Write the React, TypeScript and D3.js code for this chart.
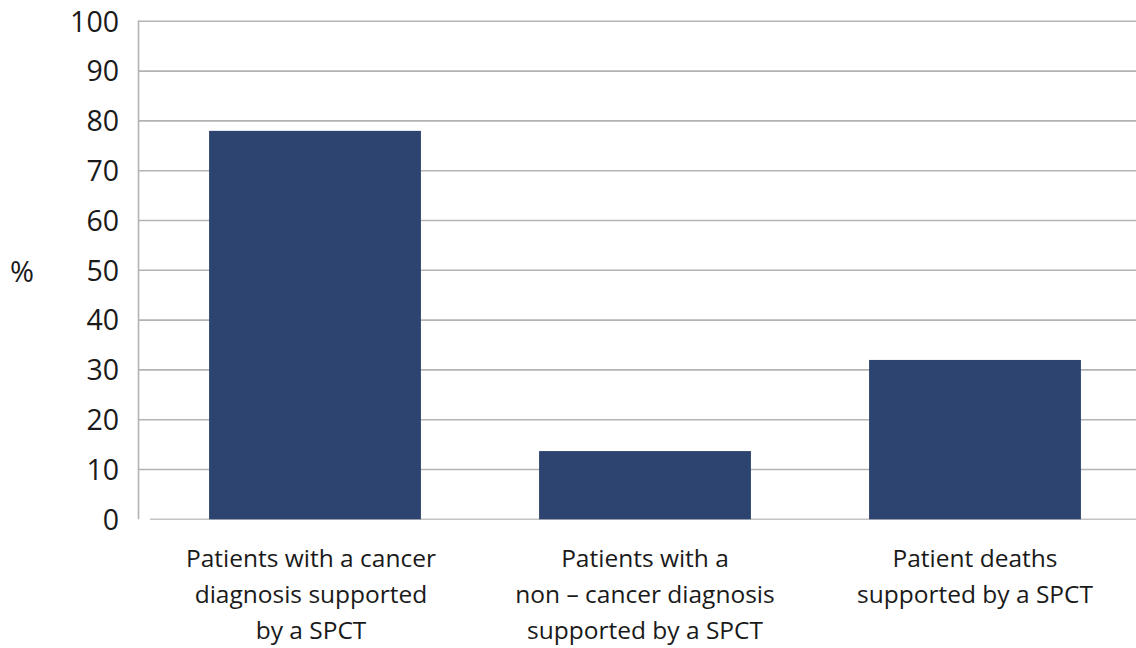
import React from "react";
import * as d3 from "d3";

const categories = ["cancer", "noncancer", "deaths"];
const categoryLabels: string[][] = [
  ["Patients with a cancer", "diagnosis supported", "by a SPCT"],
  ["Patients with a", "non – cancer diagnosis", "supported by a SPCT"],
  ["Patient deaths", "supported by a SPCT"],
];
const values = [78, 13.7, 32];
const yTicks = [0, 10, 20, 30, 40, 50, 60, 70, 80, 90, 100];
const yAxisTitle = "%";

const W = 1136;
const H = 648;
const FONT = "'Open Sans', 'Noto Sans', sans-serif";

export default function App() {
  const x = d3
    .scaleBand<string>()
    .domain(categories)
    .range([150, 1140])
    .paddingInner(0.358)
    .paddingOuter(0.179);
  const y = d3.scaleLinear().domain([0, 100]).range([519.3, 21.3]);
  const axisX = 138.5;

  return (
    <svg
      width={W}
      height={H}
      style={{ position: "absolute", left: 0, top: 0, background: "#fff" }}
      fontFamily={FONT}
    >
      {yTicks.map((t) =>
        t === 0 ? null : (
          <line
            key={"g" + t}
            x1={axisX}
            x2={W}
            y1={y(t)}
            y2={y(t)}
            stroke="#b3b3b3"
            strokeWidth={1.6}
          />
        )
      )}
      <line x1={150} x2={W} y1={y(0)} y2={y(0)} stroke="#c4c4c4" strokeWidth={1.6} />
      <line x1={axisX} x2={axisX} y1={y(100) - 0.8} y2={y(0)} stroke="#b3b3b3" strokeWidth={1.6} />
      {categories.map((c, i) => (
        <rect
          key={c}
          x={x(c)}
          y={y(values[i])}
          width={x.bandwidth()}
          height={y(0) - y(values[i])}
          fill="#2e4470"
        />
      ))}
      {yTicks.map((t) => (
        <text
          key={"t" + t}
          x={119}
          y={y(t)}
          dy="0.36em"
          textAnchor="end"
          fontSize={28.5}
          fill="#1a1a1a"
        >
          {t}
        </text>
      ))}
      <text x={22} y={272} dy="0.36em" textAnchor="middle" fontSize={29} fill="#1a1a1a">
        {yAxisTitle}
      </text>
      {categories.map((c, i) => (
        <text
          key={"l" + c}
          textAnchor="middle"
          fontSize={24.5}
          fill="#1a1a1a"
        >
          {categoryLabels[i].map((line, j) => (
            <tspan key={j} x={(x(c) as number) + x.bandwidth() / 2 - (i === 0 ? 4 : 0)} y={567 + j * 36}>
              {line}
            </tspan>
          ))}
        </text>
      ))}
    </svg>
  );
}
